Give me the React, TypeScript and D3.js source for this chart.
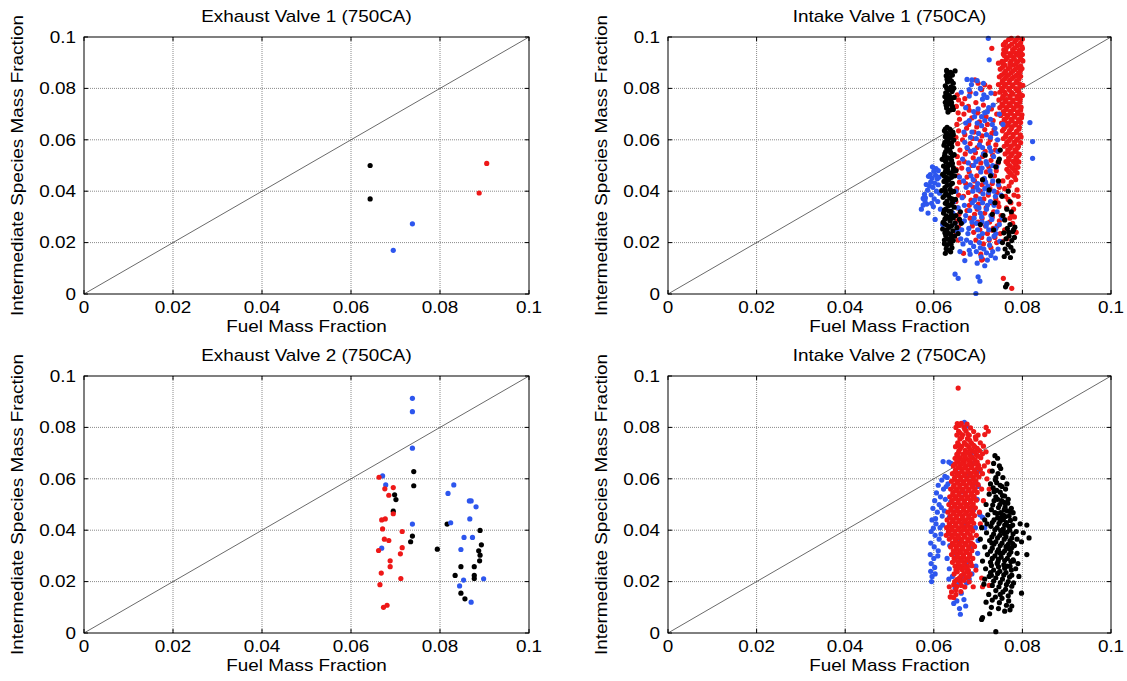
import React from "react";
import * as d3 from "d3";

type P = [number, number];

// All scatter values below in units of 1e-3 (mass fraction x 1000)
const MILLI = 0.001;

const tickValues = [0, 0.02, 0.04, 0.06, 0.08, 0.1];
const tickLabels = ["0", "0.02", "0.04", "0.06", "0.08", "0.1"];
const titles = [
  "Exhaust Valve 1 (750CA)",
  "Intake Valve 1 (750CA)",
  "Exhaust Valve 2 (750CA)",
  "Intake Valve 2 (750CA)",
];
const xLabel = "Fuel Mass Fraction";
const yLabel = "Intermediate Species Mass Fraction";
const diagonal: P[] = [[0, 0], [0.1, 0.1]];

const colors: Record<string, string> = { black: "#000000", blue: "#2d56ee", red: "#ee1818" };

// ---------- Exhaust Valve 1 ----------
const ev1Black: P[] = [[64.3, 50.0], [64.3, 37.0]];
const ev1Blue: P[] = [[69.5, 17.0], [73.8, 27.3]];
const ev1Red: P[] = [[88.8, 39.3], [90.5, 50.8]];

// ---------- Exhaust Valve 2 ----------
const ev2Blue: P[] = [
  [73.8, 91.3], [73.8, 86.1], [73.8, 71.9], [73.8, 42.4], [67.1, 61.1], [67.8, 57.6], [66.9, 33.0],
  [81.8, 54.3], [83.1, 57.6], [82.4, 42.9], [86.6, 51.4], [87.0, 51.4], [88.1, 49.1], [86.7, 44.4],
  [85.4, 37.2], [87.3, 37.2], [84.7, 32.5], [85.3, 20.6], [84.4, 18.3], [89.8, 21.1], [87.0, 12.0],
];
const ev2Black: P[] = [
  [74.1, 62.8], [74.1, 57.3], [69.8, 53.8], [70.1, 51.9], [69.5, 47.4], [73.8, 37.7], [73.4, 35.5],
  [79.4, 32.6], [81.6, 42.4], [89.0, 39.9], [89.3, 34.3], [88.7, 32.0], [89.0, 30.3], [88.9, 28.1],
  [87.7, 25.8], [84.7, 25.8], [83.4, 22.4], [87.7, 22.4], [87.7, 21.2], [84.7, 15.5], [85.6, 13.3],
];
const ev2Red: P[] = [
  [66.3, 60.6], [67.6, 56.1], [69.5, 56.6], [68.5, 53.6], [69.5, 46.4], [66.9, 44.0], [67.7, 44.4],
  [67.1, 40.5], [71.5, 39.5], [67.5, 36.5], [68.5, 36.0], [66.2, 32.1], [71.5, 33.2], [71.1, 30.8],
  [68.8, 28.1], [68.8, 25.8], [66.8, 23.3], [71.2, 21.2], [66.5, 18.8], [67.3, 10.0], [68.1, 10.8],
];

// ---------- Intake Valve 1 ----------
const iv1Black: P[] = [
  [63.0, 86.5], [63.3, 85.8], [64.8, 86.8], [62.8, 84.9], [63.6, 84.0], [63.1, 82.5], [62.6, 81.0],
  [63.9, 80.6], [64.5, 80.1], [63.2, 79.4], [62.7, 78.3], [64.1, 78.8], [63.5, 77.2], [62.9, 76.0],
  [64.6, 76.5], [63.8, 75.3], [62.6, 74.6], [63.4, 73.9], [64.2, 73.0], [62.9, 72.4], [63.7, 71.6],
  [63.2, 70.8], [64.0, 74.5], [62.5, 76.8], [64.4, 82.0],
  [62.9, 87.0], [63.8, 86.2], [64.2, 85.2], [63.0, 83.6], [64.0, 82.8], [62.9, 80.2], [64.2, 79.4],
  [63.0, 77.8], [64.0, 76.2], [63.2, 75.2], [62.8, 73.4], [64.4, 71.8],
  [63.0, 64.8], [63.6, 64.2], [62.4, 63.5], [64.3, 63.0], [63.1, 62.1], [62.6, 61.2], [63.9, 60.8],
  [64.5, 59.9], [62.9, 59.5], [63.4, 58.6], [62.3, 57.9], [64.1, 57.3], [63.0, 56.5], [62.7, 55.4],
  [63.8, 55.0], [64.6, 54.2], [62.4, 53.6], [63.3, 52.9], [64.0, 52.0], [62.8, 51.3], [63.6, 50.4],
  [62.2, 49.8], [64.4, 49.2], [63.1, 48.4], [62.6, 47.5], [63.9, 46.9], [64.7, 46.0], [62.9, 45.3],
  [63.4, 44.5], [62.3, 43.8], [64.2, 43.1], [63.0, 42.3], [62.5, 41.4], [63.7, 40.7], [64.5, 39.9],
  [62.8, 39.2], [63.3, 38.4], [62.1, 37.6], [64.1, 37.0], [63.0, 36.1], [62.6, 35.3], [63.8, 34.6],
  [64.6, 33.8], [62.7, 33.0], [63.4, 32.2], [62.2, 31.5], [64.0, 30.8], [63.1, 29.9], [62.5, 29.1],
  [63.7, 28.4], [64.8, 27.6], [62.9, 26.8], [63.5, 26.0], [62.0, 25.3], [64.3, 24.6], [63.2, 23.7],
  [62.7, 22.8], [63.9, 21.9], [62.4, 21.0], [63.6, 20.1], [62.9, 19.0], [64.1, 18.0], [63.3, 17.1],
  [62.6, 15.8], [64.7, 22.5], [65.0, 30.5], [61.8, 40.2], [62.0, 46.6], [64.9, 36.8], [65.2, 25.8],
  [62.1, 27.9], [64.4, 62.0], [61.9, 52.4], [65.0, 48.0], [65.8, 29.0], [66.2, 27.5], [65.5, 23.5],
  [66.0, 32.0],
  [62.6, 64.2], [63.8, 63.6], [62.8, 62.6], [64.0, 61.8], [63.3, 60.4], [62.5, 59.0], [64.0, 58.8],
  [62.9, 57.2], [63.6, 56.0], [62.5, 54.6], [64.2, 53.8], [63.0, 53.0], [62.6, 51.8], [64.2, 50.8],
  [63.2, 49.8], [62.7, 48.8], [64.3, 47.8], [63.4, 47.0], [62.4, 45.8], [64.0, 45.4], [62.9, 44.0],
  [63.8, 42.6], [62.6, 40.4], [64.0, 39.6], [62.5, 38.4], [63.6, 37.4], [62.9, 35.6], [64.2, 35.6],
  [63.2, 34.2], [62.4, 32.6], [63.9, 32.2], [62.8, 30.4], [64.4, 29.6], [63.6, 29.0], [62.4, 27.4],
  [64.0, 26.6], [63.0, 25.0], [63.8, 23.2], [62.5, 23.8], [63.2, 21.4], [64.4, 20.8], [62.4, 19.6],
  [63.9, 19.4], [62.8, 17.6], [63.8, 16.4],
  [76.0, 28.8], [77.2, 27.0], [76.6, 25.5], [77.8, 24.3], [75.8, 23.8], [77.0, 22.6], [76.3, 21.5],
  [77.6, 20.8], [75.5, 20.0], [76.8, 19.3], [77.4, 18.2], [76.1, 17.5], [77.9, 16.8], [76.6, 15.9],
  [75.9, 14.6], [77.3, 14.2], [76.9, 24.0], [78.2, 22.0], [78.0, 25.0],
  [72.5, 40.5], [73.8, 35.5], [74.6, 44.0], [75.4, 38.0], [73.2, 31.0], [74.0, 49.5], [76.5, 33.0],
  [77.2, 36.0], [71.6, 54.0], [74.8, 52.5], [72.8, 46.0], [75.6, 30.5], [76.8, 40.0], [77.5, 32.0],
  [70.5, 27.0], [78.3, 26.0], [73.5, 25.0], [75.0, 56.0], [71.0, 44.5], [74.6, 51.5],
  [76.2, 2.8], [76.5, 3.8],
];
const iv1Blue: P[] = [
  [57.2, 33.0], [57.6, 34.6], [58.0, 36.2], [58.4, 35.0], [57.9, 38.8], [58.6, 40.4], [59.0, 42.0],
  [59.3, 43.5], [59.6, 45.0], [59.2, 46.5], [60.0, 47.8], [60.4, 46.2], [60.8, 44.8], [60.2, 43.2],
  [59.8, 41.5], [60.6, 40.0], [61.0, 42.5], [59.4, 38.6], [60.1, 37.0], [58.8, 45.8], [61.2, 45.5],
  [60.5, 48.8], [59.7, 49.5], [61.3, 39.2], [58.3, 42.6], [60.9, 36.0], [58.7, 31.5], [59.9, 34.0],
  [61.5, 33.0], [60.3, 29.0], [58.1, 37.4], [61.0, 48.0], [57.6, 37.2], [59.5, 35.3], [62.0, 27.0],
  [67.5, 83.5], [69.8, 83.0], [71.2, 82.0], [68.5, 81.5], [70.5, 80.0], [66.2, 78.5], [68.0, 77.0],
  [72.0, 76.5], [73.4, 73.5], [70.0, 72.0], [71.5, 70.5], [69.2, 69.0], [72.8, 68.0], [67.2, 66.5],
  [70.8, 65.5], [73.8, 64.5], [68.6, 63.0], [71.9, 62.0], [69.6, 60.5], [74.4, 60.0], [67.0, 59.0],
  [70.3, 58.0], [72.6, 57.0], [68.3, 55.5], [71.2, 54.5], [73.5, 53.5], [66.5, 52.5], [69.5, 51.5],
  [72.0, 50.5], [74.2, 49.5], [67.8, 48.5], [70.6, 47.5], [73.0, 46.5], [65.8, 45.5], [68.9, 44.5],
  [71.7, 43.5], [74.6, 42.5], [67.3, 41.5], [70.0, 40.5], [72.4, 39.5], [75.2, 38.5], [66.4, 37.5],
  [69.2, 36.5], [71.0, 35.5], [73.6, 34.5], [65.5, 33.5], [68.1, 32.5], [70.5, 31.5], [72.9, 30.5],
  [75.5, 29.5], [66.9, 28.5], [69.6, 27.5], [71.8, 26.5], [74.0, 25.5], [65.2, 24.5], [67.7, 23.5],
  [70.2, 22.5], [72.5, 21.5], [74.9, 20.5], [66.6, 19.5], [69.0, 18.5], [71.3, 17.5], [73.3, 16.5],
  [68.2, 15.5], [70.7, 14.5], [72.1, 13.2], [69.8, 12.0], [71.5, 11.0], [73.9, 14.0], [67.4, 21.0],
  [64.8, 27.5], [64.5, 36.0], [65.0, 40.0], [64.3, 31.5],
  [69.0, 50.0], [70.9, 49.0], [72.7, 48.0], [68.4, 46.0], [71.4, 45.0], [73.3, 44.0], [69.9, 43.0],
  [72.2, 42.0], [68.8, 40.0], [71.1, 39.0], [73.9, 38.0], [70.4, 37.0], [72.8, 36.0], [69.5, 34.0],
  [71.9, 33.0], [74.3, 32.0], [70.8, 30.0], [73.1, 29.0], [68.6, 28.0], [72.0, 27.5], [74.8, 27.0],
  [69.9, 25.0], [71.0, 23.5], [73.6, 22.5], [70.3, 20.0], [72.6, 19.0], [68.0, 17.0], [71.9, 16.0],
  [74.5, 17.5], [67.0, 13.0], [65.9, 16.5], [66.3, 25.0],
  [68.6, 83.3], [71.0, 75.8], [72.9, 78.2], [72.1, 70.9], [74.8, 70.0], [75.6, 66.0], [74.0, 62.5],
  [72.3, 99.5], [72.5, 91.1], [81.7, 66.7], [82.3, 59.3], [82.3, 52.8],
  [64.8, 7.7], [65.5, 6.1], [70.0, 6.7], [70.4, 5.0], [69.5, 0.2],
];
const iv1BlueMid: P[] = [
  [68.0, 79.5], [69.5, 78.0], [71.3, 77.5], [67.2, 72.5], [69.0, 71.0], [70.8, 69.0], [72.4, 72.5],
  [68.0, 67.5], [69.8, 66.5], [71.5, 67.5], [73.2, 66.0], [66.8, 63.0], [68.3, 61.0], [70.1, 62.5],
  [72.8, 61.0], [67.5, 57.0], [69.1, 56.0], [71.0, 57.0], [72.9, 55.5], [74.5, 55.5], [67.8, 51.0],
  [70.2, 52.5], [71.8, 51.5], [73.3, 50.0], [66.7, 44.0], [68.2, 42.5], [69.7, 41.5], [71.5, 41.0],
  [73.6, 40.0], [66.9, 34.5], [68.7, 35.5], [70.2, 33.5], [72.1, 34.5], [67.2, 30.5], [69.1, 29.5],
  [70.9, 28.0], [72.4, 25.0], [66.1, 21.5], [68.3, 20.0], [69.6, 16.5], [70.5, 18.0], [72.9, 15.0],
  [66.5, 28.0], [67.9, 25.5], [74.0, 23.5],
];
const iv1Red: P[] = [
  [77.5, 99.5], [79.0, 99.6], [80.0, 99.2], [76.2, 98.0], [78.3, 98.2], [79.6, 97.8],
  [77.0, 96.5], [78.8, 96.6], [79.9, 96.2], [75.8, 95.0], [77.8, 95.1], [79.3, 94.8],
  [75.7, 93.4], [77.2, 93.5], [78.6, 93.6], [80.0, 93.2], [76.6, 92.0], [78.0, 92.1], [79.5, 91.8],
  [75.4, 90.5], [77.4, 90.6], [78.9, 90.4], [80.1, 90.7], [76.1, 89.0], [77.9, 89.1], [79.6, 88.8],
  [75.0, 87.5], [76.8, 87.6], [78.4, 87.4], [79.9, 87.7], [75.9, 86.0], [77.5, 86.1], [79.1, 85.9],
  [74.8, 84.5], [76.4, 84.6], [78.0, 84.4], [79.6, 84.7], [75.5, 83.0], [77.1, 83.1], [78.7, 82.9],
  [74.6, 81.5], [76.2, 81.6], [77.8, 81.4], [79.4, 81.7], [80.1, 81.2], [75.3, 80.0], [76.9, 80.1],
  [78.5, 79.9], [74.9, 78.5], [76.0, 78.6], [77.6, 78.4], [79.2, 78.7], [75.6, 77.0], [77.2, 77.1],
  [78.8, 76.9], [80.0, 77.2], [74.7, 75.5], [76.3, 75.6], [77.9, 75.4], [79.5, 75.7], [75.4, 74.0],
  [77.0, 74.1], [78.6, 73.9], [74.9, 72.5], [76.5, 72.6], [78.1, 72.4], [79.7, 72.7], [75.7, 71.0],
  [77.3, 71.1], [78.9, 70.9], [75.1, 69.5], [76.7, 69.6], [78.3, 69.4], [79.9, 69.7], [75.9, 68.0],
  [77.5, 68.1], [79.1, 67.9], [75.3, 66.5], [76.9, 66.6], [78.5, 66.4], [79.6, 66.7], [76.1, 65.0],
  [77.7, 65.1], [79.3, 64.9], [75.5, 63.5], [77.1, 63.6], [78.7, 63.4], [76.3, 62.0], [77.9, 62.1],
  [79.5, 61.9], [75.7, 60.5], [77.3, 60.6], [78.9, 60.4], [76.5, 59.0], [78.1, 59.1], [79.6, 58.9],
  [75.9, 57.5], [77.5, 57.6], [79.1, 57.4], [76.7, 56.0], [78.3, 56.1], [76.1, 54.5], [77.7, 54.6],
  [79.3, 54.4], [76.9, 53.0], [78.5, 53.1], [76.3, 51.5], [77.9, 51.6], [79.2, 51.4], [77.1, 50.0],
  [78.6, 50.1], [76.5, 48.5], [78.0, 48.6], [77.3, 47.0], [78.8, 47.1], [76.7, 45.5], [78.2, 45.6],
  [75.7, 96.9], [73.1, 95.6], [74.6, 89.8],
  [65.3, 77.5], [65.6, 75.5], [65.1, 73.0], [65.5, 70.5], [65.8, 68.0], [65.2, 66.0], [65.6, 63.5],
  [65.0, 61.0], [65.4, 58.5], [65.9, 56.0], [65.3, 53.5], [65.7, 51.0], [65.1, 48.5], [65.5, 46.0],
  [65.8, 43.5], [65.2, 41.0], [65.6, 38.5], [65.0, 36.0], [65.4, 33.5], [65.7, 31.0], [65.3, 28.5],
  [65.6, 26.0], [65.1, 23.5], [65.5, 21.0],
  [67.0, 76.0], [68.2, 78.5], [69.3, 83.3], [70.0, 82.0], [71.5, 81.4], [70.8, 79.5], [72.6, 80.5],
  [73.8, 78.0], [67.8, 73.0], [69.5, 74.5], [71.2, 73.5], [73.0, 72.0], [74.2, 70.0], [66.8, 70.0],
  [68.6, 68.5], [70.3, 67.0], [72.1, 66.0], [73.6, 64.0], [67.4, 64.5], [69.1, 63.0], [70.9, 61.5],
  [72.7, 60.0], [74.0, 58.0], [66.5, 60.0], [68.2, 58.5], [69.8, 57.0], [71.6, 55.5], [73.3, 54.0],
  [67.1, 54.5], [68.9, 53.0], [70.6, 51.0], [72.4, 49.5], [74.1, 48.0], [66.3, 49.0], [68.0, 47.5],
  [69.7, 46.0], [71.4, 44.5], [73.2, 43.0], [74.8, 41.5], [67.2, 43.0], [68.9, 41.5], [70.5, 40.0],
  [72.3, 38.5], [74.0, 37.0], [66.7, 38.0], [68.4, 36.5], [70.1, 35.0], [71.8, 33.5], [73.5, 32.0],
  [75.2, 30.5], [67.5, 32.5], [69.2, 31.0], [70.9, 29.5], [72.6, 28.0], [74.3, 26.5], [76.0, 25.0],
  [68.7, 26.5], [70.4, 25.0], [72.1, 23.5], [73.8, 22.0], [75.5, 20.5], [69.5, 21.0], [71.2, 19.5],
  [72.9, 18.0], [70.6, 15.5], [71.0, 13.5], [73.2, 24.8], [74.7, 34.0], [75.6, 44.0], [76.2, 38.0],
  [77.4, 35.5], [78.2, 30.0], [77.0, 42.0], [78.8, 40.5], [79.2, 35.0], [76.4, 33.5], [77.8, 27.5],
  [78.6, 24.0], [76.0, 29.0], [78.5, 44.5], [79.0, 38.0], [77.6, 31.0], [66.7, 15.8], [70.8, 13.2],
  [75.7, 6.1], [77.6, 2.2],
];
const iv1RedColumn: P[] = [
  [76.9, 99.0], [78.6, 98.9], [75.9, 97.3], [77.6, 97.2], [79.3, 97.0], [76.4, 95.8], [78.3, 95.7],
  [80.0, 95.5], [76.3, 94.2], [77.9, 94.3], [79.6, 94.1], [75.9, 92.8], [77.5, 92.7], [79.0, 92.9],
  [76.3, 91.2], [78.2, 91.3], [79.8, 91.1], [75.7, 89.7], [77.2, 89.8], [78.6, 89.6], [75.5, 88.2],
  [77.2, 88.3], [78.9, 88.1], [76.2, 86.7], [77.9, 86.8], [79.5, 86.6], [75.3, 85.2], [76.9, 85.3],
  [78.6, 85.1], [76.0, 83.7], [77.6, 83.8], [79.2, 83.6], [75.4, 82.2], [77.0, 82.3], [78.5, 82.1],
  [75.9, 80.7], [77.7, 80.8], [79.4, 80.6], [75.5, 79.2], [77.1, 79.3], [78.9, 79.1], [76.2, 77.7],
  [77.9, 77.8], [79.6, 77.6], [75.5, 76.2], [77.2, 76.3], [78.8, 76.1], [76.1, 74.7], [77.8, 74.8],
  [79.4, 74.6], [75.6, 73.2], [77.3, 73.3], [78.9, 73.1], [76.3, 71.7], [78.0, 71.8], [79.6, 71.6],
  [75.8, 70.2], [77.5, 70.3], [79.1, 70.1], [76.5, 68.7], [78.2, 68.8], [79.8, 68.6], [76.0, 67.2],
  [77.7, 67.3], [79.3, 67.1], [76.7, 65.7], [78.4, 65.8], [75.8, 64.2], [77.5, 64.3], [79.2, 64.1],
  [76.9, 62.7], [78.6, 62.8], [76.2, 61.2], [77.9, 61.3], [79.7, 61.1], [77.0, 59.7], [78.7, 59.8],
  [76.5, 58.2], [78.3, 58.3], [77.2, 56.7], [78.9, 56.8], [76.8, 55.2], [78.6, 55.3], [77.4, 53.7],
  [79.1, 53.8], [77.0, 52.2], [78.7, 52.3], [76.7, 50.7], [78.3, 50.8], [77.6, 49.2], [79.0, 49.3],
  [76.9, 47.7], [78.4, 47.8], [77.7, 46.2],
];
const iv1RedMid: P[] = [
  [66.4, 74.0], [68.0, 71.5], [69.9, 70.5], [71.8, 69.0], [73.4, 67.5], [67.9, 66.0], [69.7, 65.0],
  [71.5, 64.0], [73.1, 62.5], [67.0, 62.0], [68.8, 60.5], [70.5, 59.5], [72.3, 58.5], [73.9, 56.0],
  [67.6, 56.5], [69.4, 55.0], [71.0, 53.5], [72.9, 52.0], [74.5, 51.0], [66.9, 51.5], [68.6, 50.0],
  [70.1, 49.0], [71.9, 47.5], [73.7, 46.0], [67.5, 45.5], [69.2, 44.0], [70.9, 42.5], [72.7, 41.0],
  [74.3, 39.5], [67.8, 39.5], [69.5, 38.0], [71.3, 37.0], [73.0, 35.5], [74.5, 35.5], [68.0, 34.5],
  [69.8, 33.0], [71.5, 31.5], [73.2, 30.0], [74.8, 28.5], [68.2, 29.5], [70.0, 28.0], [71.7, 26.5],
  [73.4, 25.5], [75.0, 23.5], [69.0, 24.0], [70.8, 22.0], [72.5, 21.0], [74.2, 20.0], [76.5, 21.5],
  [77.2, 29.5], [78.0, 33.0], [76.8, 36.8], [78.1, 38.5], [77.5, 43.5], [76.0, 41.0],
];

// ---------- Intake Valve 2 ----------
const iv2Blue: P[] = [
  [62.5, 61.0], [61.8, 59.5], [61.0, 57.5], [62.2, 56.0], [60.6, 54.5], [61.5, 53.0], [60.2, 51.5],
  [61.2, 50.0], [59.8, 48.5], [60.8, 47.0], [61.9, 45.5], [59.6, 44.0], [60.5, 42.5], [61.4, 41.0],
  [59.4, 39.5], [60.3, 38.0], [61.2, 36.5], [59.3, 35.0], [60.1, 33.5], [61.0, 32.0], [59.2, 30.5],
  [60.0, 29.0], [59.4, 27.0], [60.2, 25.5], [59.3, 24.0], [59.6, 22.0], [59.5, 20.0], [60.3, 23.0],
  [62.0, 42.0], [62.4, 47.5], [62.6, 52.0], [61.6, 38.5], [62.1, 35.0], [60.9, 30.0], [62.8, 57.0],
  [63.0, 60.5], [63.4, 66.5], [62.1, 66.7], [63.9, 66.0], [60.4, 44.5], [59.9, 40.8], [61.7, 48.8],
  [66.9, 82.0], [67.5, 80.5], [63.2, 58.0], [63.8, 51.0], [63.5, 45.0], [63.2, 38.5], [63.6, 34.0],
  [63.0, 29.0], [63.5, 25.0], [64.2, 22.0], [63.4, 21.0], [64.8, 17.5], [65.6, 19.0], [66.5, 21.5],
  [67.4, 19.5], [68.0, 21.0], [66.2, 15.5], [65.2, 12.5], [64.5, 11.5], [65.8, 9.5], [66.0, 7.3],
  [66.8, 13.0], [67.2, 10.5], [68.6, 23.0], [69.5, 26.0], [69.9, 31.0], [70.0, 36.0], [69.4, 41.0],
  [70.4, 46.0], [69.8, 52.0], [69.7, 58.0], [70.2, 63.0], [69.1, 66.0], [66.0, 36.0], [67.0, 42.0],
  [65.2, 48.0], [67.4, 27.0], [64.8, 31.0], [68.4, 33.0], [66.6, 55.0], [67.9, 62.0], [68.5, 70.0],
  [65.0, 63.0], [69.0, 48.0], [71.5, 41.0], [71.0, 45.0], [70.4, 63.4], [70.1, 57.0],
];
const iv2Red: P[] = [
  [65.5, 95.3],
  [65.3, 81.5], [66.2, 81.6], [67.5, 81.3], [65.0, 80.0], [66.8, 80.1], [68.3, 79.8], [71.8, 80.0],
  [65.6, 78.5], [67.3, 78.6], [69.0, 78.4], [72.3, 78.5], [65.2, 77.0], [66.5, 77.1], [68.0, 76.9],
  [70.0, 77.0], [71.5, 77.2], [65.9, 75.5], [67.6, 75.6], [69.5, 75.4], [65.4, 74.0], [66.9, 74.1],
  [68.5, 73.9], [70.5, 74.0], [64.9, 72.5], [66.3, 72.6], [67.9, 72.4], [69.2, 72.5], [71.2, 72.7],
  [65.7, 71.0], [67.1, 71.1], [68.7, 70.9], [70.3, 71.0], [65.2, 69.5], [66.6, 69.6], [68.1, 69.4],
  [69.6, 69.5], [71.0, 69.7], [64.8, 68.0], [66.0, 68.1], [67.4, 67.9], [68.9, 68.0], [70.6, 68.2],
  [65.5, 66.5], [66.9, 66.6], [68.3, 66.4], [69.8, 66.5], [64.4, 65.0], [65.9, 65.1], [67.2, 64.9],
  [68.6, 65.0], [70.1, 65.2], [71.4, 65.0], [64.9, 63.5], [66.3, 63.6], [67.7, 63.4], [69.2, 63.5],
  [70.5, 63.7], [64.2, 62.0], [65.6, 62.1], [67.0, 61.9], [68.4, 62.0], [69.7, 62.2], [71.0, 62.0],
  [64.7, 60.5], [66.1, 60.6], [67.5, 60.4], [68.9, 60.5], [70.2, 60.7], [64.0, 59.0], [65.4, 59.1],
  [66.8, 58.9], [68.2, 59.0], [69.5, 59.2], [64.5, 57.5], [65.9, 57.6], [67.3, 57.4], [68.7, 57.5],
  [70.0, 57.7], [63.8, 56.0], [65.2, 56.1], [66.6, 55.9], [68.0, 56.0], [69.3, 56.2], [70.8, 56.0],
  [64.3, 54.5], [65.7, 54.6], [67.1, 54.4], [68.5, 54.5], [69.8, 54.7], [63.6, 53.0], [65.0, 53.1],
  [66.4, 52.9], [67.8, 53.0], [69.1, 53.2], [64.1, 51.5], [65.5, 51.6], [66.9, 51.4], [68.3, 51.5],
  [69.6, 51.7], [71.2, 51.5], [63.4, 50.0], [64.8, 50.1], [66.2, 49.9], [67.6, 50.0], [68.9, 50.2],
  [63.9, 48.5], [65.3, 48.6], [66.7, 48.4], [68.1, 48.5], [69.4, 48.7], [63.2, 47.0], [64.6, 47.1],
  [66.0, 46.9], [67.4, 47.0], [68.8, 47.2], [70.3, 47.0], [63.7, 45.5], [65.1, 45.6], [66.5, 45.4],
  [67.9, 45.5], [69.2, 45.7], [63.0, 44.0], [64.4, 44.1], [65.8, 43.9], [67.2, 44.0], [68.6, 44.2],
  [63.5, 42.5], [64.9, 42.6], [66.3, 42.4], [67.7, 42.5], [69.0, 42.7], [70.5, 42.5], [62.9, 41.0],
  [64.2, 41.1], [65.6, 40.9], [67.0, 41.0], [68.4, 41.2], [63.3, 39.5], [64.7, 39.6], [66.1, 39.4],
  [67.5, 39.5], [68.8, 39.7], [62.8, 38.0], [64.0, 38.1], [65.4, 37.9], [66.8, 38.0], [68.2, 38.2],
  [69.6, 38.0], [63.5, 36.5], [64.9, 36.6], [66.3, 36.4], [67.7, 36.5], [64.2, 35.0], [65.6, 35.1],
  [67.0, 34.9], [68.4, 35.0], [63.8, 33.5], [65.1, 33.6], [66.5, 33.4], [67.9, 33.5], [69.2, 33.7],
  [64.4, 32.0], [65.8, 32.1], [67.2, 31.9], [68.6, 32.0], [64.0, 30.5], [65.3, 30.6], [66.7, 30.4],
  [68.1, 30.5], [64.6, 29.0], [66.0, 29.1], [67.4, 28.9], [68.8, 29.0], [64.2, 27.5], [65.5, 27.6],
  [66.9, 27.4], [68.3, 27.5], [64.8, 26.0], [66.2, 26.1], [67.6, 25.9], [65.0, 24.5], [66.4, 24.6],
  [67.8, 24.4], [69.5, 24.5], [64.6, 23.0], [66.8, 23.1], [68.2, 22.9], [65.8, 21.5], [67.3, 21.6],
  [70.8, 21.4], [64.7, 20.0], [66.0, 20.1], [68.0, 19.9], [63.5, 18.0], [65.2, 18.1], [67.0, 17.9],
  [71.0, 18.0], [72.5, 18.5], [64.0, 16.0], [66.1, 16.1], [63.8, 14.0], [64.5, 13.8], [63.7, 14.1],
  [68.9, 18.0], [72.0, 60.0], [72.5, 56.0], [72.2, 66.5], [71.8, 70.5], [72.6, 63.0],
];
const iv2RedCore: P[] = [
  [65.8, 80.8], [67.0, 79.3], [65.9, 77.8], [67.7, 77.3], [69.4, 76.3], [66.3, 76.2], [68.1, 75.0],
  [65.6, 73.3], [67.4, 73.2], [69.0, 73.0], [66.0, 71.8], [68.2, 71.5], [69.8, 71.8], [65.6, 70.3],
  [67.6, 70.2], [69.2, 70.5], [65.5, 68.8], [67.0, 68.7], [68.5, 68.6], [70.0, 68.8], [65.2, 67.3],
  [66.5, 67.2], [68.0, 67.1], [69.3, 67.4], [64.8, 65.8], [66.3, 65.8], [67.9, 65.6], [69.4, 65.9],
  [65.5, 64.3], [66.9, 64.2], [68.4, 64.3], [69.9, 64.4], [64.8, 62.8], [66.4, 62.7], [67.7, 62.6],
  [69.1, 62.8], [65.3, 61.3], [66.8, 61.2], [68.2, 61.3], [69.5, 61.4], [64.6, 59.8], [66.1, 59.7],
  [67.5, 59.8], [68.9, 59.9], [65.2, 58.3], [66.6, 58.2], [68.0, 58.3], [69.2, 58.4], [64.5, 56.8],
  [65.9, 56.7], [67.3, 56.8], [68.7, 56.9], [64.9, 55.3], [66.4, 55.2], [67.8, 55.3], [69.2, 55.4],
  [64.3, 53.8], [65.7, 53.7], [67.1, 53.8], [68.5, 53.9], [64.7, 52.3], [66.2, 52.2], [67.5, 52.3],
  [68.9, 52.4], [64.1, 50.8], [65.5, 50.7], [66.9, 50.8], [68.3, 50.9], [64.6, 49.3], [66.0, 49.2],
  [67.3, 49.3], [68.7, 49.4], [63.9, 47.8], [65.3, 47.7], [66.7, 47.8], [68.1, 47.9], [64.4, 46.3],
  [65.8, 46.2], [67.1, 46.3], [68.5, 46.4], [63.7, 44.8], [65.1, 44.7], [66.5, 44.8], [67.9, 44.9],
  [64.2, 43.3], [65.6, 43.2], [66.9, 43.3], [68.3, 43.4], [63.6, 41.8], [65.0, 41.7], [66.4, 41.8],
  [67.7, 41.9], [64.0, 40.3], [65.4, 40.2], [66.7, 40.3], [68.1, 40.4], [63.5, 38.8], [64.8, 38.7],
  [66.2, 38.8], [67.6, 38.9], [64.2, 37.3], [65.6, 37.2], [67.0, 37.3], [68.6, 37.0], [64.9, 35.8],
  [66.3, 35.7], [67.7, 35.8], [64.5, 34.3], [65.9, 34.2], [67.3, 34.3], [68.8, 34.5], [65.1, 32.8],
  [66.5, 32.7], [67.9, 32.8], [64.7, 31.3], [66.1, 31.2], [67.5, 31.3], [65.3, 29.8], [66.7, 29.7],
  [68.1, 29.8], [64.9, 28.3], [66.3, 28.2], [67.7, 28.3], [65.5, 26.8], [66.9, 26.7], [68.6, 26.2],
  [65.7, 25.3], [67.1, 25.2], [65.3, 23.8], [67.5, 23.7], [66.2, 22.3], [67.9, 22.0], [65.2, 20.8],
  [66.8, 20.5], [64.5, 18.8], [66.2, 18.5], [65.0, 16.8], [65.0, 15.0],
];
const iv2Black: P[] = [
  [73.8, 69.0], [74.4, 68.0], [73.5, 66.0], [74.8, 65.0], [73.2, 63.0], [74.5, 62.0], [75.6, 60.5],
  [73.9, 59.5], [72.8, 58.0], [75.0, 57.5], [76.2, 56.0], [74.2, 55.5], [72.5, 54.0], [75.5, 53.5],
  [76.8, 52.0], [73.6, 51.5], [71.8, 50.0], [74.9, 50.0], [76.1, 49.0], [77.5, 48.5], [73.0, 48.0],
  [72.2, 46.0], [74.3, 46.5], [75.7, 46.0], [77.0, 45.5], [78.3, 44.5], [71.5, 44.0], [73.6, 44.0],
  [75.0, 43.5], [76.4, 43.0], [77.8, 42.0], [79.5, 42.5], [81.0, 42.0], [70.8, 41.0], [72.9, 41.5],
  [74.3, 41.0], [75.7, 40.5], [77.1, 40.0], [78.6, 39.5], [80.2, 39.0], [71.9, 39.0], [73.5, 38.5],
  [74.9, 38.0], [76.3, 37.5], [77.6, 37.0], [81.5, 37.0], [70.5, 36.5], [72.6, 36.0], [74.0, 35.5],
  [75.4, 35.0], [76.8, 34.5], [78.2, 34.0], [79.8, 35.5], [71.5, 33.5], [73.2, 33.0], [74.6, 32.5],
  [76.0, 32.0], [77.4, 31.5], [78.8, 31.0], [81.0, 30.5], [72.1, 30.5], [73.8, 30.0], [75.2, 29.5],
  [76.6, 29.0], [77.9, 28.5], [71.0, 28.0], [72.8, 27.5], [74.3, 27.0], [75.8, 26.5], [77.2, 26.0],
  [78.5, 25.0], [71.7, 25.0], [73.5, 24.5], [74.9, 24.0], [76.3, 23.5], [77.6, 22.5], [72.5, 22.0],
  [74.0, 21.5], [75.5, 21.0], [76.8, 20.0], [78.0, 19.5], [71.3, 19.0], [73.2, 18.5], [74.7, 18.0],
  [76.2, 17.0], [77.4, 16.0], [79.8, 15.5], [72.4, 15.0], [73.9, 14.0], [75.4, 13.5], [76.9, 12.5],
  [77.6, 10.5], [71.8, 12.0], [73.0, 10.0], [74.6, 9.5], [76.0, 8.5], [77.2, 9.0], [72.6, 7.5],
  [71.0, 6.0], [70.8, 5.3], [74.0, 0.5], [78.0, 28.0], [79.2, 22.0], [75.2, 45.0], [76.6, 47.5],
  [74.0, 53.0], [75.8, 38.8], [77.8, 34.8], [75.1, 64.0], [74.0, 60.5], [76.5, 58.0], [73.4, 56.5],
  [75.9, 50.8], [77.9, 46.8], [76.9, 41.5], [75.0, 31.0], [76.5, 26.0], [73.0, 22.5], [75.6, 16.0],
  [74.5, 27.8], [77.0, 32.8], [73.1, 35.0], [72.0, 42.5], [78.8, 36.5], [79.0, 27.0], [71.5, 21.0],
];
const iv2BlackCore: P[] = [
  [74.2, 58.5], [75.4, 57.0], [73.6, 55.0], [75.0, 54.8], [76.0, 53.3], [74.4, 52.0], [75.3, 51.5],
  [76.7, 50.5], [73.3, 49.8], [74.6, 48.8], [75.9, 48.0], [77.2, 47.3], [73.8, 46.8], [75.1, 46.8],
  [76.2, 45.3], [74.4, 44.8], [75.7, 44.2], [77.3, 43.8], [73.2, 43.0], [74.7, 42.6], [76.0, 42.0],
  [77.4, 41.5], [73.8, 40.2], [75.1, 39.8], [76.5, 39.2], [77.9, 38.6], [73.1, 37.4], [74.4, 37.0],
  [75.9, 36.5], [77.2, 36.0], [73.6, 34.6], [75.0, 34.0], [76.3, 33.6], [77.6, 33.2], [72.8, 31.8],
  [74.3, 31.5], [75.6, 31.2], [77.0, 30.5], [73.2, 29.0], [74.6, 28.7], [76.0, 28.2], [77.4, 27.8],
  [73.0, 26.3], [74.6, 25.8], [76.0, 25.2], [77.5, 24.5], [72.8, 23.5], [74.4, 23.2], [75.8, 22.6],
  [77.1, 21.8], [73.5, 20.2], [75.0, 19.6], [76.4, 18.8], [77.6, 18.2], [74.0, 16.5], [75.0, 15.0],
  [76.8, 14.5], [73.2, 12.8], [74.8, 11.8], [76.4, 10.8],
];

type Series = { color: string; pts: P[] };
const panels: { title: string; series: Series[] }[] = [
  { title: titles[0], series: [{ color: "black", pts: ev1Black }, { color: "blue", pts: ev1Blue }, { color: "red", pts: ev1Red }] },
  {
    title: titles[1],
    series: [
      { color: "red", pts: [...iv1Red, ...iv1RedColumn, ...iv1RedMid] },
      { color: "blue", pts: [...iv1Blue, ...iv1BlueMid] },
      { color: "black", pts: iv1Black },
    ],
  },
  { title: titles[2], series: [{ color: "black", pts: ev2Black }, { color: "blue", pts: ev2Blue }, { color: "red", pts: ev2Red }] },
  {
    title: titles[3],
    series: [
      { color: "blue", pts: iv2Blue },
      { color: "red", pts: [...iv2Red, ...iv2RedCore] },
      { color: "black", pts: [...iv2Black, ...iv2BlackCore] },
    ],
  },
];

const layout = [
  { left: 84, right: 529, top: 37, bottom: 294 },
  { left: 668, right: 1111, top: 37, bottom: 294 },
  { left: 84, right: 529, top: 376, bottom: 633 },
  { left: 668, right: 1111, top: 376, bottom: 633 },
];

const FONT = "'Liberation Sans', Arial, Helvetica, sans-serif";
const FS = 16;
const STRETCH = 1.18;

// text drawn a little wider than its height, as in the reference rendering
function SText({ x, y, rotate = 0, anchor = "middle", dy, children }: {
  x: number; y: number; rotate?: number; anchor?: "start" | "middle" | "end"; dy?: string; children: React.ReactNode;
}) {
  return (
    <text
      transform={`translate(${x},${y}) rotate(${rotate}) scale(${STRETCH},1)`}
      textAnchor={anchor}
      dy={dy}
      fontSize={FS}
      fill="#000"
    >
      {children}
    </text>
  );
}

function Panel({ panel, box }: { panel: { title: string; series: Series[] }; box: typeof layout[number] }) {
  const x = d3.scaleLinear().domain([0, 0.1]).range([box.left, box.right]);
  const y = d3.scaleLinear().domain([0, 0.1]).range([box.bottom, box.top]);
  const inner = tickValues.slice(1, -1);
  const line = d3.line<P>().x((d) => x(d[0])).y((d) => y(d[1]));
  const tl = 4;
  const midY = (box.top + box.bottom) / 2;
  const midX = (box.left + box.right) / 2;
  return (
    <g>
      {inner.map((v) => (
        <g key={"g" + v}>
          <line x1={x(v)} x2={x(v)} y1={box.top} y2={box.bottom} stroke="#8a8a8a" strokeWidth={1} strokeDasharray="1 1" />
          <line x1={box.left} x2={box.right} y1={y(v)} y2={y(v)} stroke="#8a8a8a" strokeWidth={1} strokeDasharray="1 1" />
        </g>
      ))}
      <path d={line(diagonal) || ""} stroke="#444" strokeWidth={0.8} fill="none" />
      {panel.series.map((s, si) => (
        <g key={si} fill={colors[s.color]}>
          {s.pts.map((p, pi) => (
            <circle key={pi} cx={x(p[0] * MILLI)} cy={y(p[1] * MILLI)} r={2.6} />
          ))}
        </g>
      ))}
      <rect x={box.left} y={box.top} width={box.right - box.left} height={box.bottom - box.top} fill="none" stroke="#000" strokeWidth={1} />
      {tickValues.map((v) => (
        <g key={"t" + v} stroke="#000" strokeWidth={1}>
          <line x1={x(v)} x2={x(v)} y1={box.bottom} y2={box.bottom - tl} />
          <line x1={x(v)} x2={x(v)} y1={box.top} y2={box.top + tl} />
          <line x1={box.left} x2={box.left + tl} y1={y(v)} y2={y(v)} />
          <line x1={box.right} x2={box.right - tl} y1={y(v)} y2={y(v)} />
        </g>
      ))}
      {tickValues.map((v, i) => (
        <SText key={"xl" + v} x={x(v)} y={box.bottom + 19}>{tickLabels[i]}</SText>
      ))}
      {tickValues.map((v, i) => (
        <SText key={"yl" + v} x={box.left - 8} y={y(v)} dy="0.36em" anchor="end">{tickLabels[i]}</SText>
      ))}
      <SText x={midX} y={box.top - 15}>{panel.title}</SText>
      <SText x={midX} y={box.bottom + 38}>{xLabel}</SText>
      <SText x={box.left - 61} y={midY} rotate={-90}>{yLabel}</SText>
    </g>
  );
}

export default function App() {
  return (
    <svg width={1127} height={681} style={{ position: "absolute", left: 0, top: 0, display: "block" }} fontFamily={FONT}>
      <rect x={0} y={0} width={1127} height={681} fill="#fff" />
      {panels.map((p, i) => (
        <Panel key={i} panel={p} box={layout[i]} />
      ))}
    </svg>
  );
}
